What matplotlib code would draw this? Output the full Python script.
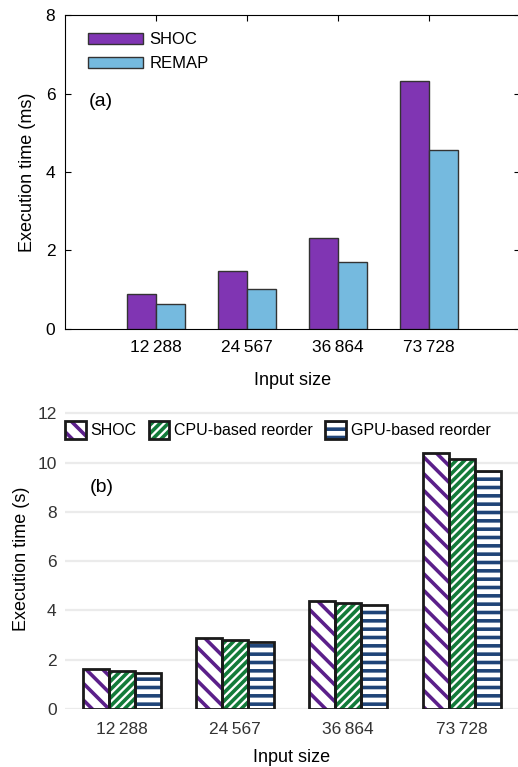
import matplotlib
matplotlib.use("Agg")
import matplotlib.pyplot as plt
from matplotlib.patches import Patch
from matplotlib.legend_handler import HandlerTuple
import numpy as np

plt.rcParams['font.family'] = ['Liberation Sans', 'DejaVu Sans']
plt.rcParams['hatch.linewidth'] = 2.6

# data
sizes = ['12\u2009288', '24\u2009567', '36\u2009864', '73\u2009728']

# (a) kernel time in ms
shoc_ms = [0.88, 1.48, 2.32, 6.33]
remap_ms = [0.63, 1.03, 1.70, 4.55]

# (b) total time in s
shoc_s = [1.61, 2.87, 4.40, 10.38]
cpu_s = [1.56, 2.80, 4.31, 10.16]
gpu_s = [1.47, 2.72, 4.22, 9.66]

fig = plt.figure(figsize=(5.18, 7.67), dpi=100)

# ---------------- top panel (a) ----------------
ax1 = fig.add_axes([0.1255, 0.5711, 0.878, 0.4093])
x1 = np.arange(1, len(sizes) + 1)
w1 = 0.32
ax1.bar(x1 - w1 / 2, shoc_ms, w1, color='#8035B3', edgecolor='#333333',
        linewidth=1.0, label='SHOC', zorder=3)
ax1.bar(x1 + w1 / 2, remap_ms, w1, color='#75BADF', edgecolor='#333333',
        linewidth=1.0, label='REMAP', zorder=3)
ax1.set_xlim(0, 5)
ax1.set_ylim(0, 8)
ax1.set_xticks(x1)
ax1.set_xticklabels(sizes, fontsize=12.5)
ax1.set_yticks([0, 2, 4, 6, 8])
ax1.tick_params(axis='y', labelsize=12.5, direction='in', length=4, right=True, pad=7)
ax1.tick_params(axis='x', direction='in', length=4, top=True, pad=8)
ax1.spines['right'].set_visible(False)
ax1.set_ylabel('Execution time (ms)', fontsize=13, labelpad=7)
ax1.set_xlabel('Input size', fontsize=13, labelpad=12)
ax1.legend(loc='upper left', bbox_to_anchor=(0.0505, 0.946), frameon=False,
           fontsize=12, handlelength=3.3, handleheight=0.65, handletextpad=0.4,
           labelspacing=0.55, borderpad=0, borderaxespad=0)
ax1.text(0.053, 0.723, '(a)', transform=ax1.transAxes, fontsize=14,
         ha='left', va='center')

# ---------------- bottom panel (b) ----------------
ax2 = fig.add_axes([0.1255, 0.0756, 0.875, 0.3919])
x2 = np.arange(len(sizes))
w2 = 0.23
series = [
    (shoc_s, '#5B1F8A', '\\\\', 'SHOC'),
    (cpu_s, '#137B3A', '////', 'CPU-based reorder'),
    (gpu_s, '#1F4478', '--', 'GPU-based reorder'),
]
handles = []
labels = []
for i, (vals, col, hat, lab) in enumerate(series):
    pos = x2 + (i - 1) * w2
    ax2.bar(pos, vals, w2, color='white', edgecolor=col, hatch=hat,
            linewidth=0, zorder=3)
    ax2.bar(pos, vals, w2, color='none', edgecolor='#1a1a1a',
            linewidth=2.0, zorder=4)
    handles.append((Patch(facecolor='white', edgecolor=col, hatch=hat, linewidth=0),
                    Patch(facecolor='none', edgecolor='#1a1a1a', linewidth=2.0)))
    labels.append(lab)

ax2.set_xlim(-0.5, 3.5)
ax2.set_ylim(0, 12.2)
ax2.set_xticks(x2)
ax2.set_xticklabels(sizes)
ax2.set_yticks([0, 2, 4, 6, 8, 10, 12])
ax2.tick_params(axis='both', length=0, labelsize=12.5, colors='#333333')
ax2.tick_params(axis='x', pad=9)
ax2.tick_params(axis='y', pad=6)
for s in ax2.spines.values():
    s.set_visible(False)
ax2.grid(axis='y', color='#EBEBEB', linewidth=1.6, zorder=0)
ax2.set_axisbelow(True)
ax2.set_ylabel('Execution time (s)', fontsize=13, labelpad=5)
ax2.set_xlabel('Input size', fontsize=13, labelpad=9)
ax2.legend(handles, labels, handler_map={tuple: HandlerTuple(ndivide=1)},
           loc='center left', bbox_to_anchor=(0.0, 0.928), ncol=3, frameon=False,
           fontsize=11.5, handlelength=1.3, handleheight=1.3, handletextpad=0.3,
           columnspacing=0.75, borderpad=0, borderaxespad=0)
ax2.text(0.055, 9.0, '(b)', transform=ax2.get_yaxis_transform(), fontsize=14,
         ha='left', va='center')

fig.savefig('out.png', dpi=100)
